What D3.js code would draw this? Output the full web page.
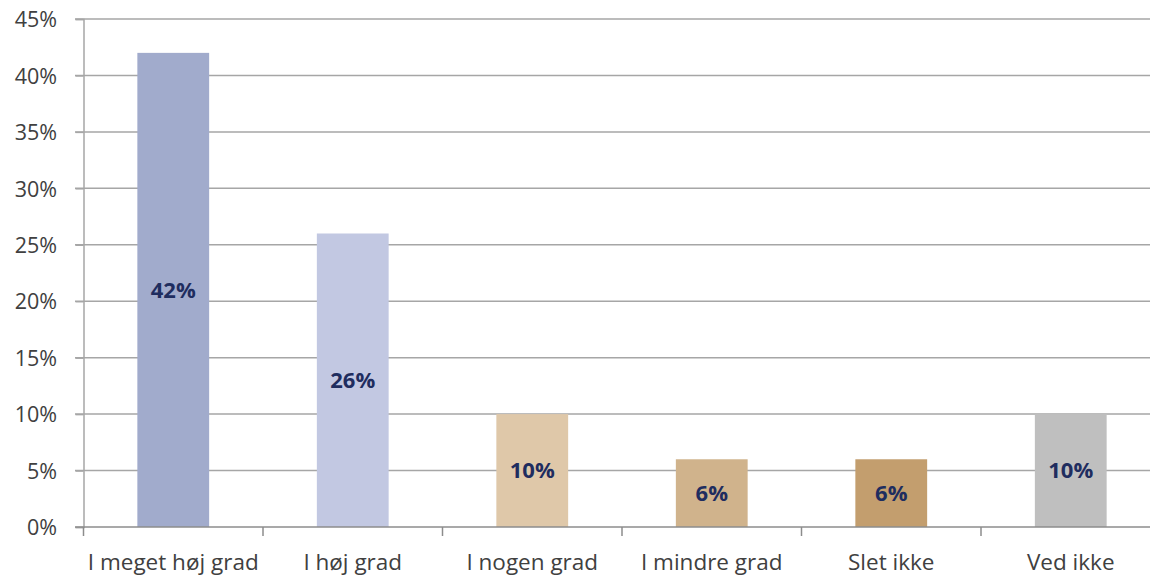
<!DOCTYPE html>
<html>
<head>
<meta charset="utf-8">
<script src="https://cdn.jsdelivr.net/npm/d3@7"></script>
<style>
  body { margin: 0; background: #fff; }
  svg { display: block; }
</style>
</head>
<body>
<svg id="chart" width="1150" height="576"></svg>
<script>
// data
var categories = ['I meget høj grad', 'I høj grad', 'I nogen grad', 'I mindre grad', 'Slet ikke', 'Ved ikke'];
var values = [42, 26, 10, 6, 6, 10];
var barColors = ['#a1abcc', '#c2c8e2', '#dfc8a9', '#d0b38c', '#c39e6e', '#bfbfbf'];
var yTicks = [0, 5, 10, 15, 20, 25, 30, 35, 40, 45];

var svg = d3.select('#chart');
var font = '"Open Sans", sans-serif';

// plot extends past the right edge, as in the original (clipped)
var x = d3.scaleBand()
  .domain(categories)
  .range([83.5, 1160.5])
  .paddingInner(0.6)
  .paddingOuter(0.3);

var y = d3.scaleLinear()
  .domain([0, 45])
  .range([527, 19]);

// gridlines
svg.append('g')
  .selectAll('line')
  .data(yTicks.filter(d => d > 0))
  .enter().append('line')
    .attr('x1', 75)
    .attr('x2', 1160)
    .attr('y1', d => y(d))
    .attr('y2', d => y(d))
    .attr('stroke', '#a6a6a6')
    .attr('stroke-width', 1.5);

// bars
svg.append('g')
  .selectAll('rect')
  .data(values)
  .enter().append('rect')
    .attr('x', (d, i) => x(categories[i]))
    .attr('width', x.bandwidth())
    .attr('y', d => y(d))
    .attr('height', d => y(0) - y(d))
    .attr('fill', (d, i) => barColors[i]);

// value labels centred in bars
svg.append('g')
  .selectAll('text')
  .data(values)
  .enter().append('text')
    .attr('x', (d, i) => x(categories[i]) + x.bandwidth() / 2)
    .attr('y', d => (y(d) + y(0)) / 2)
    .attr('dy', '0.36em')
    .attr('text-anchor', 'middle')
    .attr('font-family', font)
    .attr('font-weight', 'bold')
    .attr('font-size', 22)
    .attr('fill', '#1f2d5f')
    .text(d => d + '%');

// y axis
var yAxis = svg.append('g')
  .attr('transform', 'translate(83.5,0)')
  .call(d3.axisLeft(y).tickValues(yTicks).tickSize(8).tickFormat(d => d + '%'));
yAxis.select('.domain').attr('stroke', '#a6a6a6').attr('stroke-width', 1.5);
yAxis.selectAll('.tick line').attr('stroke', '#a6a6a6').attr('stroke-width', 1.5);
yAxis.selectAll('.tick text')
  .attr('x', -26.5)
  .attr('dy', '0.36em')
  .attr('font-family', font)
  .attr('font-size', 21.5)
  .attr('fill', '#404040');

// x axis, ticks at category boundaries
var xAxis = svg.append('g').attr('transform', 'translate(0,527)');
xAxis.append('line')
  .attr('x1', 75).attr('x2', 1160)
  .attr('stroke', '#8c8c8c').attr('stroke-width', 1.5);
var bounds = d3.range(categories.length + 1).map(i => x.range()[0] + i * x.step());
xAxis.selectAll('.bound')
  .data(bounds)
  .enter().append('line')
    .attr('class', 'bound')
    .attr('x1', d => d).attr('x2', d => d)
    .attr('y1', 0).attr('y2', 9)
    .attr('stroke', '#8c8c8c').attr('stroke-width', 1.5);
xAxis.selectAll('.cat')
  .data(categories)
  .enter().append('text')
    .attr('class', 'cat')
    .attr('x', d => x(d) + x.bandwidth() / 2)
    .attr('y', 43)
    .attr('text-anchor', 'middle')
    .attr('font-family', font)
    .attr('font-size', 22.5)
    .attr('fill', '#404040')
    .text(d => d);
</script>
</body>
</html>
